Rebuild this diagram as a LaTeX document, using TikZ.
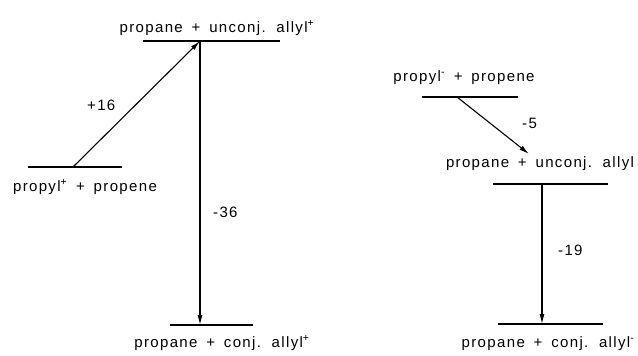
\documentclass[tikz,border=0pt]{standalone}
\usepackage{fontspec}
\setmainfont{Liberation Sans}[LetterSpace=9,WordSpace=1.6]
\usetikzlibrary{arrows.meta}
\begin{document}
\begin{tikzpicture}[x=1pt,y=-1pt,
  level/.style={line width=1.8pt},
  conn/.style={line width=1.1pt,-{Latex[length=10pt,width=5pt]}},
  lab/.style={font=\fontsize{15}{17}\selectfont,inner sep=0pt,anchor=base},
  num/.style={font=\fontsize{15}{17}\selectfont,inner sep=0pt,anchor=base west}]
\useasboundingbox (0,0) rectangle (638,356);
% left diagram levels
\draw[level] (143,41) -- (280,41);
\draw[level] (28,167) -- (122,167);
\draw[level] (170,325) -- (253,325);
% right diagram levels
\draw[level] (422,97) -- (518,97);
\draw[level] (493,184) -- (608,184);
\draw[level] (498,324) -- (603,324);
% connector end points
\coordinate (pL) at (73,167);
\coordinate (uL) at (200,41);
\coordinate (cL) at (200,325);
\coordinate (pR) at (457,97);
\coordinate (uRa) at (529,154);
\coordinate (uR) at (542,184);
\coordinate (cR) at (542,324);
% connectors
\draw[conn] (pL) -- (uL);
\draw[conn] (uL) -- (cL);
\draw[conn] (pR) -- (uRa);
\draw[conn] (uR) -- (cR);
% labels
\node[lab] (t1) at (217,32) {propane + unconj. allyl\textsuperscript{+}};
\node[lab] (t2) at (85,191) {propyl\textsuperscript{+} + propene};
\node[lab] (t3) at (222,347) {propane + conj. allyl\textsuperscript{+}};
\node[lab] (t4) at (464,81) {propyl\textsuperscript{-} + propene};
\node[lab] (t5) at (540,167) {propane + unconj. allyl};
\node[lab] (t6) at (548,347) {propane + conj. allyl\textsuperscript{-}};
\node[num] (n1) at (87,110) {+16};
\node[num] (n2) at (213,217) {-36};
\node[num] (n3) at (522,128) {-5};
\node[num] (n4) at (558,255) {-19};
\end{tikzpicture}
\end{document}
